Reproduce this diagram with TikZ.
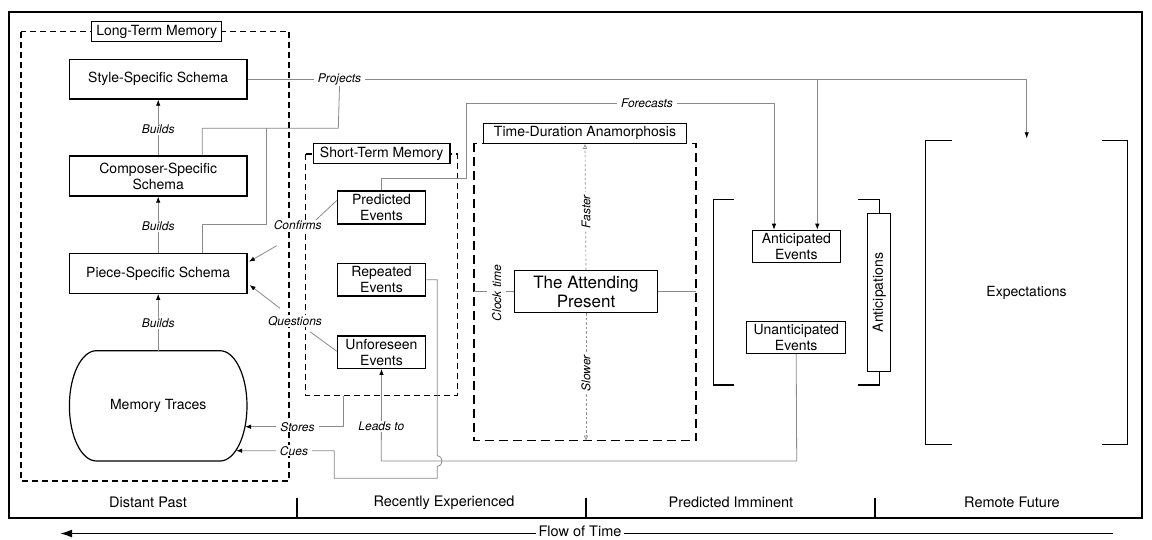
\documentclass[tikz,border=0pt]{standalone}
\usepackage{tikz}
\usepackage{fontspec}
\setmainfont{TeX Gyre Heros}
\usetikzlibrary{arrows.meta,calc}
\definecolor{linegray}{HTML}{8A8A8A}
\definecolor{dashgray}{HTML}{909090}
\begin{document}
\begin{tikzpicture}[x=1pt,y=-1pt,
  bx/.style={draw, line width=1.2pt, align=center, inner sep=0pt, fill=white,
             font=\fontsize{14}{16}\selectfont},
  conn/.style={draw=linegray, line width=0.8pt},
  tip/.style={-{Latex[length=6pt,width=4.5pt,color=black]}},
  lab/.style={font=\itshape\fontsize{12}{14}\selectfont, fill=white, inner xsep=4pt, inner ysep=1pt},
  rlab/.style={lab, rotate=90},
  dbox/.style={draw, line width=1.3pt, dash pattern=on 6pt off 4pt},
  tdabox/.style={draw, line width=1.3pt, dash pattern=on 9pt off 5pt},
  brk/.style={draw, line width=1.3pt},
  capt/.style={font=\fontsize{14.5}{16}\selectfont, inner sep=1pt},
  speed/.style={draw=dashgray, line width=0.7pt, dash pattern=on 2.5pt off 2pt,
                -{Triangle[open,length=5pt,width=4pt,color=dashgray]}}
]
\useasboundingbox (0,0) rectangle (1152,539);
\fill[white] (0,0) rectangle (1152,539);

% ---------- outer frame, time sections ----------
\draw[line width=1.6pt] (9,11.7) rectangle (1142,518);
\foreach \x in {297,586,875} \draw[line width=1.5pt] (\x,497.7) -- (\x,518);
\node[capt] (c1) at (148,502.3) {Distant Past};
\node[capt] (c2) at (444,502.3) {Recently Experienced};
\node[capt] (c3) at (731,502.3) {Predicted Imminent};
\node[capt] (c4) at (1012,502.3) {Remote Future};

% flow of time
\coordinate (flowR) at (1113,533.5);
\coordinate (flowL) at (60,533.5);
\draw[line width=1.8pt, -{Latex[length=12pt,width=8pt]}] (flowR) -- (flowL);
\node[capt, fill=white, inner xsep=3pt, inner ysep=0pt] (flow) at (580,531.5) {Flow of Time};

% ---------- dashed regions ----------
\draw[dbox] (21,31.7) rectangle (289,481);
\draw[dbox] (305.7,154) rectangle (457.3,395.7);
\draw[tdabox] (474,143.3) rectangle (696,440.7);

% ---------- brackets ----------
\draw[brk] (734,199.3) -- (713.3,199.3) -- (713.3,385) -- (734,385);
\draw[brk] (951.7,140.7) -- (925.7,140.7) -- (925.7,444.3) -- (951.7,444.3);
\draw[brk] (1102.3,140.7) -- (1127.7,140.7) -- (1127.7,444.3) -- (1102.3,444.3);
\node[capt, font=\fontsize{14}{16}\selectfont] (expt) at (1026.5,292.7) {Expectations};

% ---------- nodes ----------
\node[bx, minimum width=177.7pt, minimum height=39.7pt] (sss) at (158.2,79.2) {Style-Specific Schema};
\node[bx, minimum width=177.7pt, minimum height=40pt] (css) at (158.2,176) {Composer-Specific\\Schema};
\node[bx, minimum width=177.7pt, minimum height=40pt] (pss) at (158.2,273.3) {Piece-Specific Schema};
\draw[line width=1.2pt] (96.4,350.7) -- (220,350.7)
   .. controls (234.9,350.7) and (247,375.4) .. (247,405.85)
   .. controls (247,436.3) and (234.9,461) .. (220,461)
   -- (96.4,461)
   .. controls (81.5,461) and (69.4,436.3) .. (69.4,405.85)
   .. controls (69.4,375.4) and (81.5,350.7) .. (96.4,350.7) -- cycle;
\node[minimum width=177.7pt, minimum height=110.3pt, inner sep=0pt, font=\fontsize{14}{16}\selectfont] (mt) at (158.2,405.9) {Memory Traces};

\node[bx, minimum width=88.4pt, minimum height=33pt] (pe) at (381.5,207.5) {Predicted\\Events};
\node[bx, minimum width=88.4pt, minimum height=32.7pt] (re) at (381.5,279.7) {Repeated\\Events};
\node[bx, minimum width=88.4pt, minimum height=32.3pt] (ue) at (381.5,352.2) {Unforeseen\\Events};

\node[bx, minimum width=142.6pt, minimum height=42pt, font=\fontsize{17}{19.5}\selectfont] (ap) at (586,291.7) {The Attending\\Present};

\node[bx, minimum width=88pt, minimum height=32.4pt] (ae) at (796.3,246.5) {Anticipated\\Events};
\node[bx, minimum width=99pt, minimum height=31.6pt] (ua) at (796.2,337.5) {Unanticipated\\Events};
\node[bx, minimum width=23pt, minimum height=158.4pt] (ant) at (879.2,292.5) {};
\node[rotate=90, font=\fontsize{14}{16}\selectfont, inner sep=0pt] (antt) at (ant.center) {Anticipations};
\draw[brk] (858.3,199.3) -- (879.2,199.3) -- (ant.north);
\draw[brk] (ant.south) -- (879.2,385) -- (858.3,385);

% region labels
\node[bx, minimum width=130pt, minimum height=20pt] (ltm) at (156.7,31.7) {Long-Term Memory};
\node[bx, minimum width=136.7pt, minimum height=20pt] (stm) at (381.7,153.3) {Short-Term Memory};
\node[bx, minimum width=203.4pt, minimum height=20pt] (tda) at (585,133.3) {Time-Duration Anamorphosis};

% ---------- coordinates ----------
\coordinate (expTop) at (1026.7,138.3);
\coordinate (projBr) at (817.3,79.15);
\coordinate (j1) at (338.3,128.3);
\coordinate (j2) at (266.7,128.3);
\coordinate (tdaL) at (474,291.7);
\coordinate (tdaR) at (696,291.7);
\coordinate (tdaB) at (586,440.7);
\coordinate (stmB) at (343.7,395.7);
\coordinate (storesTip) at (245,426.7);
\coordinate (cuesTip) at (236.2,450.7);
\coordinate (confA) at (313,222.7);
\coordinate (confB) at (276.7,245.7);
\coordinate (qA) at (280,308.3);
\coordinate (qB) at (310,331.7);

% ---------- connectors ----------
% builds
\draw[conn, tip] (css.north) -- (sss.south) node[lab, midway, yshift=-2pt] (b1) {Builds};
\draw[conn, tip] (pss.north) -- (css.south) node[lab, midway, yshift=-2pt] (b2) {Builds};
\draw[conn, tip] (mt.north) -- (pss.south) node[lab, midway, yshift=-1pt] (b3) {Builds};

% projects
\draw[conn, tip] (sss.east) -| (expTop);
\draw[conn, tip] (projBr) -- ([xshift=21pt]ae.north);
\node[lab] (proj) at (339.5,79.3) {Projects};
\draw[conn] (proj.south) -- (j1) -| ([xshift=44.1pt]css.north);
\draw[conn] (j2) |- ($(pss.north)+(44.1,-28.3)$) -- ([xshift=44.1pt]pss.north);

% forecasts
\draw[conn, tip] (pe.north) -- ++(0,-12) -| (466,103.3) -| ([xshift=-22.3pt]ae.north);
\node[lab] (fore) at (647,103.3) {Forecasts};

% confirms / questions
\draw[conn] ($(pe.west)+(0,-7)$) -- (confA);
\draw[conn, tip] (confB) -- ($(pss.east)+(1.3,-11.6)$);
\node[lab, inner sep=1pt] (conf) at (297.7,225.3) {Confirms};
\draw[conn, tip] (qA) -- ($(pss.east)+(2,11.7)$);
\draw[conn] (qB) -- ($(ue.west)+(0,-1)$);
\node[lab, inner sep=1pt] (ques) at (295,321) {Questions};

% stores
\draw[conn, tip] (stmB) |- (storesTip);
\node[lab] (stores) at (297.5,426.7) {Stores};

% leads to
\draw[conn, tip] (ua.south) -- (796.7,461) -- (381.3,461) -- (ue.south);
\node[lab] (leads) at (381.3,426.7) {Leads to};

% cues (with hop over the leads-to line)
\draw[conn, tip] (re.east) -- (437.3,279.7) -- (437.3,455.5)
   .. controls (443.5,455.5) and (443.5,466.5) .. (437.3,466.5)
   -- (437.3,478.3) -- (334.3,478.3) -- (334.3,450.7) -- (cuesTip);
\node[lab] (cues) at (294,450.7) {Cues};

% clock time
\draw[conn] (tdaL) -- (ap.west);
\draw[conn] (ap.east) -- (tdaR);
\node[rlab, inner xsep=2pt, inner ysep=5pt] (clock) at (496.7,293) {Clock time};

% faster / slower
\draw[speed] (ap.north) -- (tda.south);
\draw[speed] (ap.south) -- (tdaB);
\node[rlab, inner ysep=1pt, inner xsep=3pt] (fast) at (586,211.7) {Faster};
\node[rlab, inner ysep=1pt, inner xsep=3pt] (slow) at (586,373.3) {Slower};
\end{tikzpicture}
\end{document}
